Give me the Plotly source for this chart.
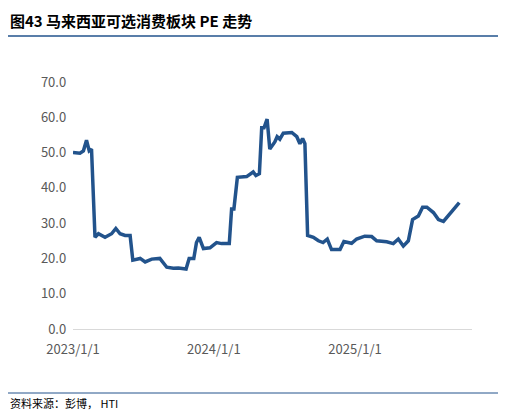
import plotly.graph_objects as go

dates = ["2023-01-01", "2023-01-19", "2023-01-28", "2023-02-05", "2023-02-12", "2023-02-18",
         "2023-02-27", "2023-03-08", "2023-03-25", "2023-04-11", "2023-04-22", "2023-05-03",
         "2023-05-16", "2023-05-29", "2023-06-05", "2023-06-24", "2023-07-07", "2023-07-24",
         "2023-08-14", "2023-09-01", "2023-09-18", "2023-10-01", "2023-10-21", "2023-10-29",
         "2023-11-10", "2023-11-17", "2023-11-24", "2023-12-05", "2023-12-22", "2024-01-08",
         "2024-01-21", "2024-02-10", "2024-02-16", "2024-02-22", "2024-03-02", "2024-03-26",
         "2024-04-12", "2024-04-19", "2024-04-28", "2024-05-04", "2024-05-10", "2024-05-18",
         "2024-05-25", "2024-06-07", "2024-06-13", "2024-06-20", "2024-06-29", "2024-07-21",
         "2024-08-03", "2024-08-11", "2024-08-18", "2024-08-24", "2024-08-31", "2024-09-15",
         "2024-09-28", "2024-10-10", "2024-10-21", "2024-11-01", "2024-11-23", "2024-12-03",
         "2024-12-23", "2025-01-05", "2025-01-26", "2025-02-13", "2025-02-26", "2025-03-24",
         "2025-04-10", "2025-04-23", "2025-05-06", "2025-05-19", "2025-05-30", "2025-06-14",
         "2025-06-25", "2025-07-06", "2025-07-23", "2025-08-05", "2025-08-18", "2025-09-28"]
pe = [50, 49.8, 50.5, 53.5, 50.5, 51,
      26, 27, 26, 27, 28.5, 27,
      26.5, 26.5, 19.5, 20, 19, 19.8,
      20, 17.5, 17.2, 17.3, 17, 20,
      20, 24.5, 26, 22.8, 23, 24.5,
      24.2, 24.2, 34, 34, 43, 43.2,
      44.5, 43.5, 44, 57, 57, 59.5,
      51, 53, 54.5, 53.8, 55.5, 55.7,
      54.5, 52.5, 54, 52.5, 26.5, 26,
      25, 24.5, 25.5, 22.5, 22.5, 24.8,
      24.3, 25.5, 26.3, 26.2, 25, 24.7,
      24.2, 25.5, 23.5, 25, 31, 32,
      34.5, 34.5, 33, 31, 30.5, 35.8]
tick_vals = ["2023-01-01", "2024-01-01", "2025-01-01"]
tick_text = ["2023/1/1", "2024/1/1", "2025/1/1"]

# page body has an 8px margin, so the figure is 8px smaller than the window
fig = go.Figure(go.Scatter(x=dates, y=pe, mode="lines",
                           line=dict(color="#22538c", width=3.5)))
fig.update_layout(
    width=498, height=406, margin=dict(l=65, r=34, t=74, b=85),
    paper_bgcolor="white", plot_bgcolor="white", showlegend=False,
    font=dict(family="Noto Sans CJK SC", color="#595959", size=13),
)
fig.update_xaxes(range=["2023-01-01", "2025-10-31"], tickvals=tick_vals, ticktext=tick_text,
                 showgrid=False, showline=True, linecolor="#d9d9d9", ticks="", zeroline=False,
                 ticklabelstandoff=8)
fig.update_yaxes(range=[0, 70], dtick=10, tickformat=".1f", showgrid=False,
                 zeroline=False, ticks="", ticksuffix="  ")
fig.add_annotation(text="<b>图43 马来西亚可选消费板块 PE 走势</b>", xref="paper", yref="paper",
                   x=-65/399, y=1 + 62/247, xanchor="left", yanchor="middle", showarrow=False,
                   font=dict(size=15, color="black"))
fig.add_annotation(text="资料来源：彭博， HTI", xref="paper", yref="paper",
                   x=-65/399, y=-74/247, xanchor="left", yanchor="middle", showarrow=False,
                   font=dict(size=11, color="black"))
fig.add_shape(type="line", xref="paper", yref="paper", x0=-65/399, x1=1 + 34/399,
              y0=1 + 46/247, y1=1 + 46/247, line=dict(color="#22538c", width=1.5))
fig.add_shape(type="line", xref="paper", yref="paper", x0=-65/399, x1=1 + 34/399,
              y0=-64/247, y1=-64/247, line=dict(color="#22538c", width=1))
fig.write_html("out.html")
